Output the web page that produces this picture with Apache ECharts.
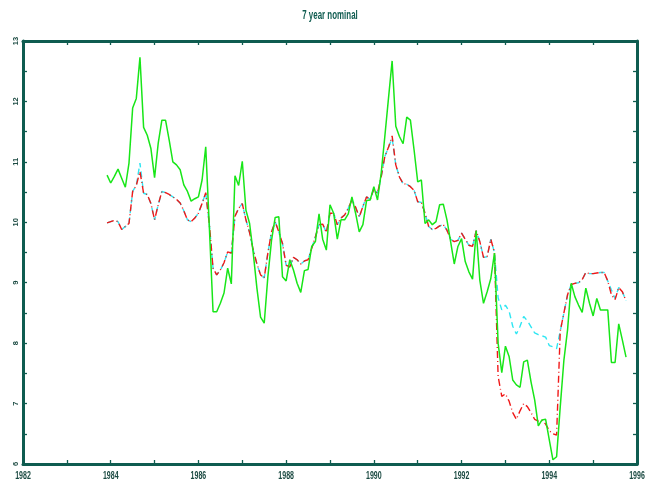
<!DOCTYPE html>
<html>
<head>
<meta charset="utf-8">
<script src="https://cdn.jsdelivr.net/npm/echarts@6/dist/echarts.min.js"></script>
<style>
  html, body { margin: 0; padding: 0; background: #ffffff; }
  #chart { width: 647px; height: 489px; }
</style>
</head>
<body>
<div id="chart"></div>
<script>
// Monthly observations, December 1983 to October 1995
const firstMonth = 1983 + 11 / 12;

// Solid green series
const nominalGreen = [
  10.78, 10.65, 10.76, 10.88, 10.73, 10.58, 10.98, 11.89, 12.05, 12.73,
  11.57, 11.44, 11.22, 10.74, 11.31, 11.69, 11.69, 11.36, 11.00, 10.95,
  10.87, 10.62, 10.51, 10.35, 10.39, 10.42, 10.70, 11.25, 9.90, 8.52,
  8.52, 8.66, 8.83, 9.24, 8.98, 10.77, 10.61, 11.01, 10.20, 9.98,
  9.49, 8.91, 8.43, 8.33, 9.10, 9.70, 10.08, 10.09, 9.10, 9.03,
  9.38, 9.21, 8.99, 8.84, 9.20, 9.22, 9.60, 9.68, 10.14, 9.72,
  9.54, 10.29, 10.15, 9.72, 10.04, 10.04, 10.14, 10.42, 10.15, 9.84,
  9.96, 10.36, 10.37, 10.59, 10.37, 10.81, 11.42, 12.05, 12.67, 11.59,
  11.42, 11.30, 11.74, 11.69, 11.20, 10.67, 10.70, 9.98, 10.04, 9.96,
  10.01, 10.29, 10.30, 10.04, 9.68, 9.31, 9.60, 9.73, 9.35, 9.18,
  9.06, 9.86, 9.04, 8.66, 8.85, 9.07, 9.49, 8.00, 7.51, 7.95,
  7.78, 7.39, 7.31, 7.27, 7.69, 7.72, 7.36, 7.06, 6.63, 6.73,
  6.74, 6.40, 6.07, 6.12, 6.95, 7.72, 8.22, 8.99, 8.77, 8.63,
  8.51, 8.91, 8.66, 8.45, 8.74, 8.55, 8.55, 8.55, 7.68, 7.68,
  8.32, 8.05, 7.77
];

// Red dash-dot series
const nominalRed = [
  9.99, 10.01, 10.03, 10.01, 9.88, 9.93, 9.98, 10.51, 10.61, 10.84,
  10.48, 10.46, 10.31, 10.04, 10.29, 10.51, 10.49, 10.46, 10.42, 10.38,
  10.32, 10.19, 10.04, 10.01, 10.07, 10.15, 10.31, 10.49, 9.96, 9.24,
  9.13, 9.21, 9.33, 9.51, 9.49, 10.10, 10.23, 10.31, 10.04, 9.83,
  9.54, 9.31, 9.13, 9.08, 9.49, 9.84, 10.01, 9.84, 9.65, 9.29,
  9.26, 9.42, 9.38, 9.31, 9.36, 9.38, 9.57, 9.76, 9.96, 9.97,
  9.83, 10.15, 10.15, 9.96, 10.07, 10.12, 10.23, 10.37, 10.25, 10.09,
  10.26, 10.42, 10.38, 10.55, 10.48, 10.75, 11.09, 11.24, 11.43, 10.95,
  10.75, 10.64, 10.63, 10.59, 10.53, 10.34, 10.33, 10.15, 9.93, 9.88,
  9.90, 9.94, 9.96, 9.87, 9.72, 9.68, 9.70, 9.82, 9.72, 9.62,
  9.60, 9.86, 9.68, 9.42, 9.43, 9.72, 9.50, 7.45, 7.12, 7.16,
  7.04, 6.85, 6.74, 6.88, 7.00, 6.95, 6.85, 6.74, 6.71, 6.72,
  6.66, 6.55, 6.50, 6.48, 8.20, 8.50, 8.80, 8.97, 8.99, 9.00,
  9.05, 9.17, 9.15, 9.15, 9.16, 9.17, 9.17, 9.03, 8.80, 8.72,
  8.92, 8.85, 8.70
];

// Cyan dashed series
const nominalCyan = [
  9.99, 10.01, 10.03, 10.01, 9.88, 9.93, 9.98, 10.51, 10.61, 10.98,
  10.48, 10.46, 10.31, 10.04, 10.29, 10.51, 10.49, 10.46, 10.42, 10.38,
  10.32, 10.19, 10.04, 10.01, 10.07, 10.15, 10.31, 10.49, 9.96, 9.24,
  9.13, 9.21, 9.33, 9.51, 9.49, 10.10, 10.23, 10.31, 10.04, 9.83,
  9.54, 9.31, 9.13, 9.08, 9.49, 9.84, 10.01, 9.84, 9.65, 9.29,
  9.26, 9.42, 9.38, 9.31, 9.36, 9.38, 9.57, 9.76, 9.96, 9.97,
  9.83, 10.15, 10.15, 9.96, 10.07, 10.12, 10.23, 10.37, 10.25, 10.09,
  10.26, 10.42, 10.38, 10.55, 10.48, 10.75, 11.09, 11.24, 11.39, 10.95,
  10.75, 10.64, 10.63, 10.59, 10.53, 10.34, 10.33, 10.15, 9.93, 9.88,
  9.90, 9.94, 9.96, 9.87, 9.72, 9.68, 9.70, 9.82, 9.72, 9.62,
  9.60, 9.86, 9.68, 9.42, 9.43, 9.72, 9.50, 8.75, 8.55, 8.63,
  8.53, 8.28, 8.15, 8.28, 8.44, 8.37, 8.27, 8.17, 8.14, 8.12,
  8.10, 7.96, 7.94, 7.91, 8.20, 8.50, 8.80, 8.97, 8.99, 9.00,
  9.05, 9.17, 9.15, 9.15, 9.16, 9.17, 9.17, 9.03, 8.88, 8.74,
  8.92, 8.85, 8.70
];

// Axis ranges, tick steps and tick labels
const yearRange = [1982, 1996];
const yearStep = 2;
const valueRange = [6, 13];
const valueStep = 1;
const yearLabels = [1982, 1984, 1986, 1988, 1990, 1992, 1994, 1996];
const valueLabels = [6, 7, 8, 9, 10, 11, 12, 13];

const titleText = '7 year nominal';

const FRAME = '#0f5c50';
const LABEL = '#1b4a42';
const FONT = "'Liberation Sans', Arial, sans-serif";

function toPoints(values) {
  return values.map((v, i) => [firstMonth + i / 12, v]);
}

function frameAxis(extra) {
  return Object.assign({
    type: 'value',
    axisLine: { show: true, onZero: false, lineStyle: { color: FRAME, width: 3 } },
    axisTick: { show: true, inside: true, length: 4, lineStyle: { color: FRAME, width: 1.3 } },
    minorTick: { show: true, splitNumber: 2, length: 4, lineStyle: { color: FRAME, width: 1.3 } },
    splitLine: { show: false },
    minorSplitLine: { show: false },
    axisLabel: { show: false }
  }, extra);
}

const chart = echarts.init(document.getElementById('chart'), null, { renderer: 'canvas' });

chart.setOption({
  animation: false,
  backgroundColor: '#ffffff',
  grid: { left: 23, right: 10, top: 41, bottom: 25, containLabel: false, outerBoundsMode: 'none' },
  xAxis: [
    frameAxis({ position: 'bottom', min: yearRange[0], max: yearRange[1], interval: yearStep }),
    frameAxis({ position: 'top', min: yearRange[0], max: yearRange[1], interval: yearStep })
  ],
  yAxis: [
    frameAxis({ position: 'left', min: valueRange[0], max: valueRange[1], interval: valueStep }),
    frameAxis({ position: 'right', min: valueRange[0], max: valueRange[1], interval: valueStep })
  ],
  series: [
    {
      type: 'line', name: 'cyan', data: toPoints(nominalCyan),
      symbol: 'none', smooth: false,
      lineStyle: { color: '#2ee6f2', width: 1.4, type: [6, 4] }
    },
    {
      type: 'line', name: 'red', data: toPoints(nominalRed),
      symbol: 'none', smooth: false,
      lineStyle: { color: '#f01818', width: 1.4, type: [7, 3, 1, 3] }
    },
    {
      type: 'line', name: 'green', data: toPoints(nominalGreen),
      symbol: 'none', smooth: false,
      lineStyle: { color: '#18e618', width: 1.5 }
    }
  ]
});

// Condensed tick labels and title, placed through the axes' own scales
function condensedText(text, x, y, size, scaleX, rotation, color) {
  return {
    type: 'text', x: x, y: y, scaleX: scaleX, scaleY: 1, rotation: rotation || 0,
    silent: true,
    style: {
      text: String(text), x: 0, y: 0, fill: color,
      font: 'bold ' + size + 'px ' + FONT,
      textAlign: 'center', textVerticalAlign: 'middle',
      align: 'center', verticalAlign: 'middle'
    }
  };
}

const gridRect = chart.getModel().getComponent('grid', 0).coordinateSystem.getRect();
const labels = [];
yearLabels.forEach(function (yr) {
  const px = chart.convertToPixel({ xAxisIndex: 0 }, yr);
  labels.push(condensedText(yr, px, gridRect.y + gridRect.height + 12, 11, 0.64, 0, LABEL));
});
valueLabels.forEach(function (v) {
  const py = chart.convertToPixel({ yAxisIndex: 0 }, v);
  labels.push(condensedText(v, gridRect.x - 7, py, 7.5, 1, Math.PI / 2, LABEL));
});
labels.push(condensedText(titleText, gridRect.x + gridRect.width / 2, 16, 12, 0.66, 0, FRAME));

chart.setOption({ graphic: { elements: labels } });
</script>
</body>
</html>
